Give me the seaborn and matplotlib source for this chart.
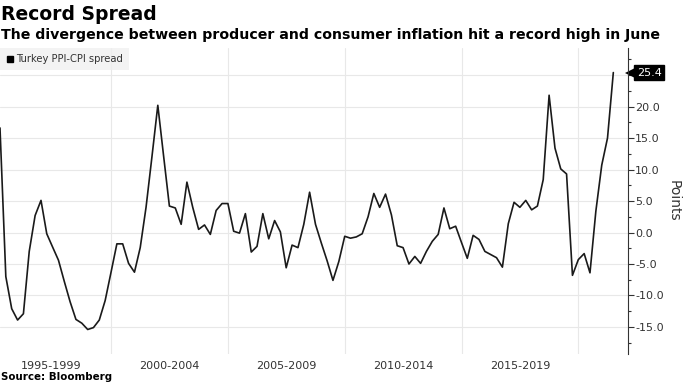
import matplotlib
matplotlib.use("Agg")
import matplotlib.pyplot as plt
import matplotlib.transforms as mtransforms
from matplotlib.lines import Line2D
from matplotlib.ticker import MultipleLocator
import seaborn as sns
import pandas as pd

# ---------------- data ----------------
start_quarter = "1995Q1"
end_quarter = "2021Q2"
spread = [
    16.6, -7.0, -12.1, -13.9, -12.9, -3.0, 2.7, 5.1, -0.2, -2.3,
    -4.4, -7.8, -11.0, -13.8, -14.4, -15.4, -15.1, -13.9, -10.8, -6.3,
    -1.8, -1.8, -4.9, -6.3, -2.4, 4.0, 12.0, 20.2, 12.2, 4.2,
    3.9, 1.3, 8.0, 4.0, 0.5, 1.2, -0.3, 3.5, 4.6, 4.6,
    0.2, -0.1, 3.0, -3.1, -2.2, 3.0, -1.0, 1.9, 0.1, -5.6,
    -2.0, -2.4, 1.3, 6.4, 1.3, -1.7, -4.5, -7.6, -4.6, -0.6,
    -0.9, -0.7, -0.2, 2.5, 6.2, 4.0, 6.1, 2.8, -2.1, -2.4,
    -5.0, -3.8, -4.9, -3.0, -1.4, -0.3, 3.9, 0.6, 1.0, -1.6,
    -4.1, -0.45, -1.1, -3.0, -3.5, -4.0, -5.5, 1.4, 4.8, 4.0,
    5.1, 3.6, 4.2, 8.4, 21.8, 13.4, 10.1, 9.3, -6.8, -4.3,
    -3.35, -6.4, 3.4, 10.7, 15.0, 25.4,
]
period_labels = ["1995-1999", "2000-2004", "2005-2009", "2010-2014", "2015-2019"]
label_dates = ["1997-06-15", "2002-07-01", "2007-07-01", "2012-07-01", "2017-07-01"]
boundary_dates = ["2000-01-01", "2005-01-01", "2010-01-01", "2015-01-01", "2020-01-01"]
y_ticks = [-15, -10, -5, 0, 5, 10, 15, 20, 25]
series_name = "Turkey PPI-CPI spread"

dates = pd.period_range(start_quarter, end_quarter, freq="Q").end_time.normalize()
df = pd.DataFrame({"date": dates, "spread": spread})

# ---------------- figure ----------------
sns.set_style("white")
plt.rcParams["font.family"] = ["DejaVu Sans"]

fig = plt.figure(figsize=(6.83, 3.84), dpi=100)
ax = fig.add_axes([0.0, 0.078, 0.92, 0.797])

sns.lineplot(data=df, x="date", y="spread", ax=ax, color="#1a1a1a",
             linewidth=1.2, legend=False)

ax.set_xlim(pd.Timestamp(dates[0]), pd.Timestamp("2022-02-20"))
ax.set_ylim(-19.3, 29.3)

# grid
ax.set_xticks([pd.Timestamp(d) for d in boundary_dates], minor=True)
ax.set_xticks([pd.Timestamp(d) for d in label_dates])
ax.set_xticklabels(period_labels)
ax.grid(axis="x", which="minor", color="#e8e8e8", linewidth=0.8)
ax.grid(axis="x", which="major", visible=False)
ax.set_yticks(y_ticks)
ax.set_yticklabels([f"{v:.1f}" if v != 25 else "" for v in y_ticks])
ax.yaxis.set_minor_locator(MultipleLocator(2.5))
ax.grid(axis="y", which="major", color="#e8e8e8", linewidth=0.8)
ax.set_axisbelow(True)

ax.yaxis.tick_right()
ax.yaxis.set_label_position("right")
ax.tick_params(axis="y", which="major", direction="out", length=4, width=0.8,
               color="#333333", labelsize=8, labelcolor="#333333", pad=1)
ax.tick_params(axis="y", which="minor", direction="out", length=2.5, width=0.8,
               color="#333333")
ax.tick_params(axis="x", which="both", length=0, labelsize=8,
               labelcolor="#333333", pad=5)

for side in ["left", "top", "bottom"]:
    ax.spines[side].set_visible(False)
ax.spines["right"].set_color("#333333")
ax.spines["right"].set_linewidth(0.8)

ax.set_xlabel("")
ax.set_ylabel("Points", rotation=270, fontsize=10, color="#333333", labelpad=12)

# legend
handle = Line2D([], [], linestyle="none", marker="s", markersize=5,
                color="black")
leg = ax.legend([handle], [series_name], loc="upper left",
                bbox_to_anchor=(0.0, 1.0), borderaxespad=0.0, frameon=True,
                fancybox=False, fontsize=7.2, handletextpad=0.2,
                handlelength=0.8, borderpad=0.6, labelcolor="#333333")
leg.get_frame().set_facecolor("#f0f0f0")
leg.get_frame().set_edgecolor("none")

# last value tag
last_val = spread[-1]
trans = mtransforms.blended_transform_factory(ax.transAxes, ax.transData)
ax.annotate(f"{last_val:.1f}", xy=(1.0, last_val), xycoords=trans,
            xytext=(6, 0), textcoords="offset points", ha="left", va="center",
            fontsize=8, color="white", annotation_clip=False,
            bbox=dict(boxstyle="square,pad=0.22", fc="black", ec="black"))
tri_trans = mtransforms.offset_copy(trans, fig=fig, x=2.2, y=0, units="points")
ax.plot([1.0], [last_val], marker="<", markersize=8, color="black",
        transform=tri_trans, clip_on=False, markeredgewidth=0)

# titles
fig.text(0.002, 1 - 14 / 384, "Record Spread", ha="left", va="center",
         fontsize=13.5, fontweight="bold", color="black")
fig.text(0.002, 1 - 35 / 384,
         "The divergence between producer and consumer inflation hit a record high in June",
         ha="left", va="center", fontsize=10.15, fontweight="bold", color="black")
fig.text(0.002, 1 - 377 / 384, "Source: Bloomberg", ha="left", va="center",
         fontsize=7.4, fontweight="bold", color="black")

fig.savefig("out.png", dpi=100)
